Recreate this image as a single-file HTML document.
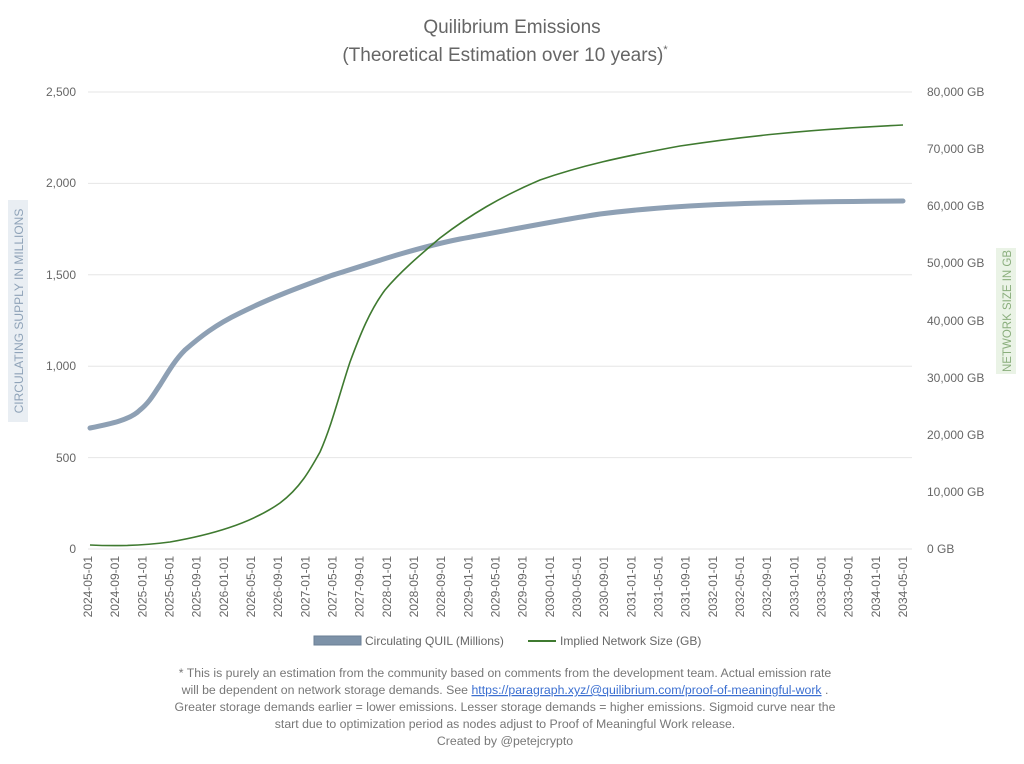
<!DOCTYPE html>
<html><head><meta charset="utf-8"><style>
body{margin:0;background:#fff;width:1024px;height:759px;overflow:hidden;font-family:"Liberation Sans",sans-serif}
</style></head><body>
<svg width="1024" height="759" xmlns="http://www.w3.org/2000/svg" font-family="Liberation Sans, sans-serif">
<text x="512" y="33" text-anchor="middle" font-size="19" fill="#666">Quilibrium Emissions</text>
<text x="505" y="61" text-anchor="middle" font-size="19" fill="#666">(Theoretical Estimation over 10 years)<tspan font-size="11" dy="-8">*</tspan></text>
<g stroke="#e6e6e6" stroke-width="1">
<line x1="88" x2="912" y1="92" y2="92"/><line x1="88" x2="912" y1="183.4" y2="183.4"/>
<line x1="88" x2="912" y1="274.8" y2="274.8"/><line x1="88" x2="912" y1="366.2" y2="366.2"/>
<line x1="88" x2="912" y1="457.6" y2="457.6"/><line x1="88" x2="912" y1="549" y2="549"/>
</g>
<g font-size="12" fill="#666" text-anchor="end">
<text x="76" y="96">2,500</text><text x="76" y="187">2,000</text><text x="76" y="279">1,500</text>
<text x="76" y="370">1,000</text><text x="76" y="462">500</text><text x="76" y="553">0</text>
</g>
<g font-size="12" fill="#666">
<text x="927" y="96">80,000 GB</text><text x="927" y="153">70,000 GB</text><text x="927" y="210">60,000 GB</text>
<text x="927" y="267">50,000 GB</text><text x="927" y="325">40,000 GB</text><text x="927" y="382">30,000 GB</text>
<text x="927" y="439">20,000 GB</text><text x="927" y="496">10,000 GB</text><text x="927" y="553">0 GB</text>
</g>
<rect x="8" y="200" width="20" height="222" fill="#e9eef3"/>
<text transform="translate(23,311) rotate(-90)" text-anchor="middle" font-size="12" fill="#8fa3b8">CIRCULATING SUPPLY IN MILLIONS</text>
<rect x="996" y="248" width="20" height="126" fill="#eaf3e6"/>
<text transform="translate(1011,311) rotate(-90)" text-anchor="middle" font-size="11.5" fill="#8aae7c">NETWORK SIZE IN GB</text>
<path d="M90,428 C110,424 130,420 140,410 C150,402 155,392 160,385 C168,372 175,360 185,350 C200,337 215,325 240,313 C270,298 300,287 330,276 C380,260 420,247 460,239 C520,228 560,220 600,214 C680,204 760,202 903,201" fill="none" stroke="#8ea0b4" stroke-width="5" stroke-linecap="round"/>
<path d="M90,545 C110,546 140,546 170,542 C210,535 250,524 280,503 C300,488 310,470 320,452 C332,425 340,392 350,362 C360,335 370,310 385,290 C400,272 420,255 440,238 C470,215 500,197 540,180 C580,166 620,157 680,146 C740,137 800,130 903,125" fill="none" stroke="#3f7a30" stroke-width="1.6"/>
<rect x="314" y="636" width="47" height="9" fill="#7d92a8" stroke="#6a7f95"/>
<text x="365" y="645" font-size="12" fill="#666">Circulating QUIL (Millions)</text>
<line x1="528" y1="641" x2="556" y2="641" stroke="#3f7a30" stroke-width="2"/>
<text x="560" y="645" font-size="12" fill="#666">Implied Network Size (GB)</text>
<g font-size="12.3" fill="#777" text-anchor="middle">
<text x="505" y="677">* This is purely an estimation from the community based on comments from the development team. Actual emission rate</text>
<text x="505" y="694">will be dependent on network storage demands. See <tspan fill="#3b6fd1" text-decoration="underline">https://paragraph.xyz/@quilibrium.com/proof-of-meaningful-work</tspan> .</text>
<text x="505" y="711">Greater storage demands earlier = lower emissions. Lesser storage demands = higher emissions. Sigmoid curve near the</text>
<text x="505" y="728">start due to optimization period as nodes adjust to Proof of Meaningful Work release.</text>
<text x="505" y="745">Created by @petejcrypto</text>
</g>
<g font-size="12" fill="#666" text-anchor="end">
<text transform="translate(92.0,556) rotate(-90)">2024-05-01</text>
<text transform="translate(119.2,556) rotate(-90)">2024-09-01</text>
<text transform="translate(146.3,556) rotate(-90)">2025-01-01</text>
<text transform="translate(173.5,556) rotate(-90)">2025-05-01</text>
<text transform="translate(200.7,556) rotate(-90)">2025-09-01</text>
<text transform="translate(227.8,556) rotate(-90)">2026-01-01</text>
<text transform="translate(255.0,556) rotate(-90)">2026-05-01</text>
<text transform="translate(282.2,556) rotate(-90)">2026-09-01</text>
<text transform="translate(309.3,556) rotate(-90)">2027-01-01</text>
<text transform="translate(336.5,556) rotate(-90)">2027-05-01</text>
<text transform="translate(363.7,556) rotate(-90)">2027-09-01</text>
<text transform="translate(390.8,556) rotate(-90)">2028-01-01</text>
<text transform="translate(418.0,556) rotate(-90)">2028-05-01</text>
<text transform="translate(445.2,556) rotate(-90)">2028-09-01</text>
<text transform="translate(472.3,556) rotate(-90)">2029-01-01</text>
<text transform="translate(499.5,556) rotate(-90)">2029-05-01</text>
<text transform="translate(526.7,556) rotate(-90)">2029-09-01</text>
<text transform="translate(553.8,556) rotate(-90)">2030-01-01</text>
<text transform="translate(581.0,556) rotate(-90)">2030-05-01</text>
<text transform="translate(608.2,556) rotate(-90)">2030-09-01</text>
<text transform="translate(635.3,556) rotate(-90)">2031-01-01</text>
<text transform="translate(662.5,556) rotate(-90)">2031-05-01</text>
<text transform="translate(689.7,556) rotate(-90)">2031-09-01</text>
<text transform="translate(716.8,556) rotate(-90)">2032-01-01</text>
<text transform="translate(744.0,556) rotate(-90)">2032-05-01</text>
<text transform="translate(771.2,556) rotate(-90)">2032-09-01</text>
<text transform="translate(798.3,556) rotate(-90)">2033-01-01</text>
<text transform="translate(825.5,556) rotate(-90)">2033-05-01</text>
<text transform="translate(852.7,556) rotate(-90)">2033-09-01</text>
<text transform="translate(879.8,556) rotate(-90)">2034-01-01</text>
<text transform="translate(907.0,556) rotate(-90)">2034-05-01</text>
</g>
</svg>
</body></html>
